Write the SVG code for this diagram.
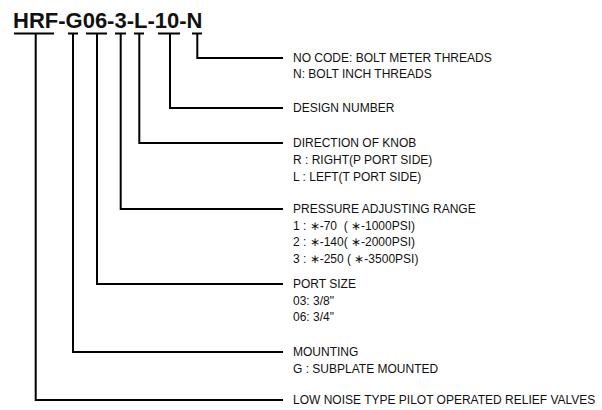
<svg xmlns="http://www.w3.org/2000/svg" width="602" height="410" viewBox="0 0 602 410">
<style>
.t{font-family:"Liberation Sans",Arial,sans-serif;font-size:12px;fill:#111}
.title{font-family:"Liberation Sans",Arial,sans-serif;font-size:22px;font-weight:bold;fill:#111}
.c{fill:none;stroke:#000;stroke-width:2}
</style>
<rect width="602" height="410" fill="#fff"/>
<g id="title"><text class="title" x="13" y="27.5">HRF-G06-3-L-10-N</text></g>
<g id="connectors">
<path class="c" d="M14 33.5H54M68 33.5H78M86 33.5H107M115 33.5H126M134 33.5H144M158 33.5H180M192 33.5H202"/>
<path class="c" d="M197.3 33.5V58H283"/>
<path class="c" d="M170 33.5V108H283"/>
<path class="c" d="M139.3 33.5V143H283"/>
<path class="c" d="M120.7 33.5V209H283"/>
<path class="c" d="M97 33.5V284H283"/>
<path class="c" d="M73 33.5V352H283"/>
<path class="c" d="M35.7 33.5V400H283"/>
</g>
<g id="n-threads"><text class="t" x="293" y="62">NO CODE: BOLT METER THREADS</text><text class="t" x="293" y="78">N: BOLT INCH THREADS</text></g>
<g id="design"><text class="t" x="293" y="112">DESIGN NUMBER</text></g>
<g id="knob"><text class="t" x="293" y="147">DIRECTION OF KNOB</text><text class="t" x="293" y="164">R : RIGHT(P PORT SIDE)</text><text class="t" x="293" y="181">L : LEFT(T PORT SIDE)</text></g>
<g id="pressure"><text class="t" x="293" y="213">PRESSURE ADJUSTING RANGE</text><text class="t" x="293" y="230" xml:space="preserve">1 : ∗-70  ( ∗-1000PSI)</text><text class="t" x="293" y="246">2 : ∗-140( ∗-2000PSI)</text><text class="t" x="293" y="263">3 : ∗-250 ( ∗-3500PSI)</text></g>
<g id="port"><text class="t" x="293" y="288">PORT SIZE</text><text class="t" x="293" y="305">03: 3/8"</text><text class="t" x="293" y="321">06: 3/4"</text></g>
<g id="mounting"><text class="t" x="293" y="356">MOUNTING</text><text class="t" x="293" y="373">G : SUBPLATE MOUNTED</text></g>
<g id="type"><text class="t" x="293" y="404">LOW NOISE TYPE PILOT OPERATED RELIEF VALVES</text></g>
</svg>
